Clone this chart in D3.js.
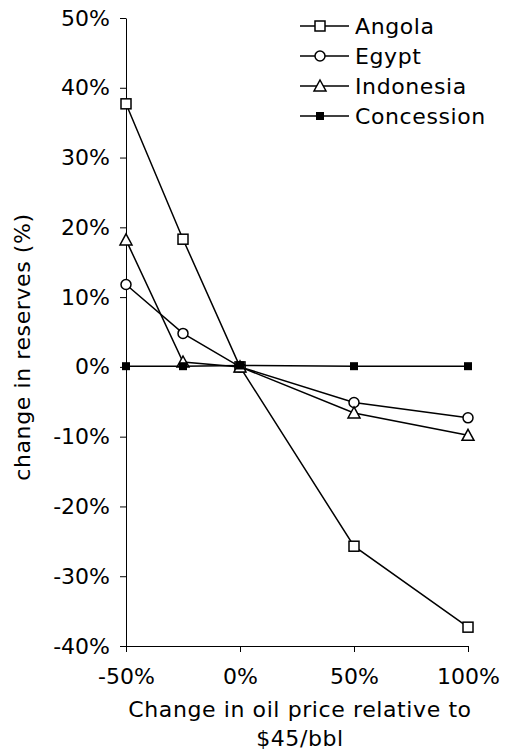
<!DOCTYPE html>
<html><head><meta charset="UTF-8">
<script src="https://d3js.org/d3.v7.min.js"></script>
<style>body{margin:0;background:#fff}text{font-family:"DejaVu Sans",Verdana,sans-serif;font-size:22px;letter-spacing:0.6px;fill:#000}</style>
</head><body><svg id="c" width="505" height="751"></svg>
<script>
var xValues = [-0.5, -0.25, 0, 0.5, 1.0];
var yTicks = [-0.4,-0.3,-0.2,-0.1,0,0.1,0.2,0.3,0.4,0.5];
var xTicks = [-0.5, 0, 0.5, 1.0];
var angola = [0.377, 0.183, 0, -0.257, -0.373];
var egypt = [0.118, 0.048, 0, -0.051, -0.073];
var indonesia = [0.182, 0.007, 0, -0.066, -0.098];
var concession = [0.001, 0.001, 0.002, 0.001, 0.001];
var seriesNames = ["Angola","Egypt","Indonesia","Concession"];
var seriesData = [angola, egypt, indonesia, concession];
var markers = ["square","circle","triangle","filled"];

var svg = d3.select("#c");
var x = d3.scaleLinear().domain([-0.5,1]).range([126,468]);
var y = d3.scaleLinear().domain([-0.4,0.5]).range([646,18]);
var pct = v => d3.format(".0%")(v).replace("−","-");

svg.append("g").attr("transform","translate(126,0)")
  .call(d3.axisLeft(y).tickValues(yTicks).tickFormat(pct).tickSize(6).tickSizeOuter(0))
  .call(g=>{g.selectAll("text").style("font-size","22px").style("letter-spacing","0px").attr("x",-16);g.selectAll("line,path").attr("stroke","#000");});
svg.append("g").attr("transform","translate(0,646)")
  .call(d3.axisBottom(x).tickValues(xTicks).tickFormat(pct).tickSize(6).tickSizeOuter(0))
  .call(g=>{g.selectAll("text").style("font-size","22px").style("letter-spacing","0px").attr("y",22);g.selectAll("line,path").attr("stroke","#000");});
svg.append("text").attr("x",300).attr("y",717).attr("text-anchor","middle").text("Change in oil price relative to");
svg.append("text").attr("x",300).attr("y",746).attr("text-anchor","middle").text("$45/bbl");
svg.append("text").attr("transform","translate(30,347) rotate(-90)").attr("text-anchor","middle").text("change in reserves (%)");

function marker(g, type, cx, cy){
  if(type==="square") g.append("rect").attr("x",cx-5).attr("y",cy-5).attr("width",10).attr("height",10).attr("fill","#fff").attr("stroke","#000").attr("stroke-width",1.5);
  else if(type==="circle") g.append("circle").attr("cx",cx).attr("cy",cy).attr("r",5).attr("fill","#fff").attr("stroke","#000").attr("stroke-width",1.5);
  else if(type==="triangle") g.append("path").attr("d",`M${cx},${cy-6}L${cx+6},${cy+5}L${cx-6},${cy+5}Z`).attr("fill","#fff").attr("stroke","#000").attr("stroke-width",1.5);
  else g.append("rect").attr("x",cx-4).attr("y",cy-4).attr("width",8).attr("height",8).attr("fill","#000");
}
var line = d3.line().x((d,i)=>x(xValues[i])).y(d=>y(d));
seriesData.forEach(function(s,k){
  var g = svg.append("g");
  g.append("path").attr("d",line(s)).attr("fill","none").attr("stroke","#000").attr("stroke-width",1.5);
  s.forEach((d,i)=>marker(g, markers[k], x(xValues[i]), y(d)));
});
seriesNames.forEach(function(n,k){
  var ly = 26 + k*30;
  var g = svg.append("g");
  g.append("line").attr("x1",300).attr("x2",349).attr("y1",ly).attr("y2",ly).attr("stroke","#000").attr("stroke-width",1.5);
  marker(g, markers[k], 320, ly);
  g.append("text").attr("x",355).attr("y",ly+8).text(n);
});
</script></body></html>
